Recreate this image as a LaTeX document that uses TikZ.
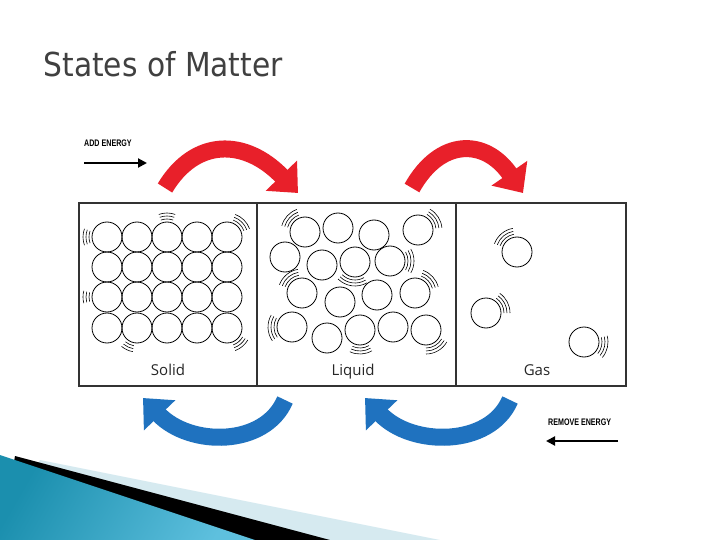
\documentclass[tikz,border=0pt]{standalone}
\usepackage{fontspec}
\setmainfont{Open Sans}
\newfontfamily\titlefont{DejaVu Sans Condensed}
\newfontfamily\condfont{Liberation Sans}[FakeStretch=0.75]
\usetikzlibrary{arrows.meta,calc}
\definecolor{redA}{HTML}{E8202A}
\definecolor{blueA}{HTML}{1F72BF}
\definecolor{tealA}{HTML}{1B8FAE}
\definecolor{tealB}{HTML}{5EC0DE}
\definecolor{paleA}{HTML}{D6EAF0}
\tikzset{
  mol/.style={draw=black, line width=0.8pt},
  vibarc/.style={draw=black, line width=0.6pt},
  panel/.style={draw=black!80, line width=1.2pt},
  lbl/.style={font=\fontsize{15}{15}\selectfont, text=black!85, anchor=base},
  redarrow/.style={redA, line width=17pt, -{Triangle[length=24pt,width=42pt]}},
  bluearrow/.style={blueA, line width=17pt, -{Triangle[length=24pt,width=42pt]}},
  energy/.style={line width=2pt, -{Triangle[length=9pt,width=9pt]}}
}
\newcommand{\vib}[4]{% x y start end (standard math angles)
  \foreach \rr in {18,21,24} {\draw[vibarc] ($(#1,#2)+(-#3:\rr)$) arc[start angle=-#3, end angle=-#4, radius=\rr];}}
\begin{document}
\begin{tikzpicture}[x=1pt,y=-1pt]
\useasboundingbox (0,0) rectangle (720,540);
\fill[white] (0,0) rectangle (720,540);
% bottom-left decoration
\fill[paleA] (40,460) -- (440,540) -- (0,540) -- cycle;
\fill[black] (15,456) -- (330,540) -- (0,540) -- cycle;
\shade[left color=tealA, right color=tealB, shading angle=60] (0,455) -- (255,540) -- (0,540) -- cycle;
% title
\node[anchor=west, font=\titlefont\fontsize{33}{33}\selectfont, text=black!75] (title) at (40,64) {States of Matter};
% panels
\draw[panel] (79,203) rectangle (626,386);
\draw[panel] (257,203) -- (257,386);
\draw[panel] (456,203) -- (456,386);
\node[lbl] (ls) at (168,375) {Solid};
\node[lbl] (ll) at (353,375) {Liquid};
\node[lbl] (lg) at (537,375) {Gas};
% solid
\foreach \x in {107,137,167,197,227} \foreach \y in {237,267,297,328} {\draw[mol] (\x,\y) circle[radius=15];}
\vib{107}{237}{160}{200}
\vib{167}{237}{70}{110}
\vib{227}{237}{20}{70}
\vib{107}{297}{165}{195}
\vib{137}{328}{230}{260}
\vib{227}{328}{290}{330}
% liquid
\foreach \p in {(305,232),(338,228),(374,235),(418,230),(285,257),(322,265),(355,262),(390,261),(302,293),(340,302),(377,295),(415,293),(292,327),(327,338),(360,330),(393,327),(426,330)} {\draw[mol] \p circle[radius=15];}
\vib{305}{232}{110}{165}
\vib{418}{230}{5}{60}
\vib{355}{262}{225}{300}
\vib{390}{261}{-30}{30}
\vib{302}{293}{100}{160}
\vib{415}{293}{15}{70}
\vib{292}{327}{150}{215}
\vib{360}{330}{245}{300}
\vib{426}{330}{270}{330}
% gas
\foreach \p in {(517,252),(486,313),(584,342)} {\draw[mol] \p circle[radius=15];}
\vib{517}{252}{100}{160}
\vib{486}{313}{0}{55}
\vib{584}{342}{-40}{15}
% red arrows
\coordinate (r1s) at (165,188); \coordinate (r1e) at (298,193);
\coordinate (r2s) at (412,188); \coordinate (r2e) at (523,193);
\draw[redarrow] (r1s) .. controls (195,138) and (245,138) .. (r1e);
\draw[redarrow] (r2s) .. controls (440,138) and (485,138) .. (r2e);
% blue arrows
\coordinate (b1s) at (285,400); \coordinate (b1e) at (143,398);
\coordinate (b2s) at (510,400); \coordinate (b2e) at (365,398);
\draw[bluearrow] (b1s) .. controls (265,447) and (190,447) .. (b1e);
\draw[bluearrow] (b2s) .. controls (490,447) and (412,447) .. (b2e);
% energy labels
\node[anchor=west, font=\condfont\bfseries\fontsize{9.5}{9.5}\selectfont, inner sep=0] (add) at (84,143) {ADD ENERGY};
\coordinate (a1) at (84,163); \coordinate (a2) at (147,163);
\draw[energy] (a1) -- (a2);
\node[anchor=west, font=\condfont\bfseries\fontsize{9.5}{9.5}\selectfont, inner sep=0] (rem) at (548,422) {REMOVE ENERGY};
\coordinate (r1) at (618,441); \coordinate (r2) at (546,441);
\draw[energy] (r1) -- (r2);
\end{tikzpicture}
\end{document}
